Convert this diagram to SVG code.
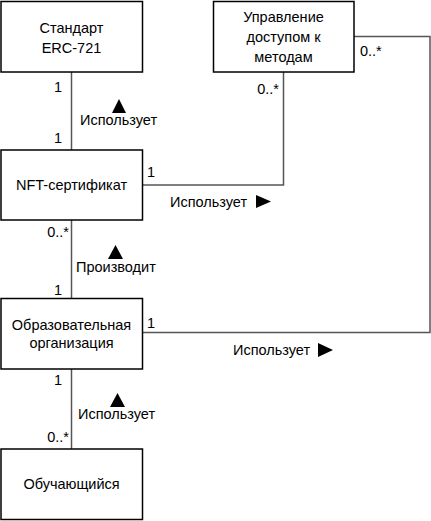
<svg xmlns="http://www.w3.org/2000/svg" width="431" height="521" viewBox="0 0 431 521">
<style>
  .box { fill: #fff; stroke: #000; stroke-width: 1.5; }
  .conn { fill: none; stroke: #555; stroke-width: 1.5; }
  text { font-family: "Liberation Sans", Arial, sans-serif; font-size: 14.5px; fill: #000; }
  .c { text-anchor: middle; }
  .r { text-anchor: end; }
  .tri { fill: #000; }
</style>
<rect width="431" height="521" fill="#fff"/>
<g id="connectors">
  <line class="conn" x1="71.5" y1="72" x2="71.5" y2="150"/>
  <line class="conn" x1="71.5" y1="220" x2="71.5" y2="298"/>
  <line class="conn" x1="71.5" y1="369" x2="71.5" y2="449"/>
  <polyline class="conn" points="142.5,185 283.5,185 283.5,72"/>
  <polyline class="conn" points="142.5,332.5 430,332.5 430,36.5 354,36.5"/>
  <text x="62" y="92" class="r">1</text>
  <text x="62" y="143" class="r">1</text>
  <polygon class="tri" points="112,113 126,113 119,99"/>
  <text x="80" y="125">Использует</text>
  <text x="279" y="94" class="r">0..*</text>
  <text x="360" y="56">0..*</text>
  <text x="147" y="177">1</text>
  <text x="170" y="207">Использует</text>
  <polygon class="tri" points="256,195 256,208 271,201.5"/>
  <text x="69" y="237" class="r">0..*</text>
  <polygon class="tri" points="108,259 123,259 115.5,245"/>
  <text x="76" y="272">Производит</text>
  <text x="62" y="295" class="r">1</text>
  <text x="147" y="328">1</text>
  <text x="233" y="355">Использует</text>
  <polygon class="tri" points="318,343 318,357 333,350"/>
  <text x="62" y="385" class="r">1</text>
  <polygon class="tri" points="110,407 125,407 117.5,393"/>
  <text x="78" y="419">Использует</text>
  <text x="69" y="442" class="r">0..*</text>
</g>
<g id="standard">
  <rect class="box" x="1" y="1.5" width="141.5" height="70.5"/>
  <text x="71.5" y="33" class="c">Стандарт</text>
  <text x="71.5" y="53" class="c">ERC-721</text>
</g>
<g id="access">
  <rect class="box" x="213.5" y="1.5" width="140.5" height="70.5"/>
  <text x="283.5" y="22" class="c">Управление</text>
  <text x="283.5" y="42" class="c">доступом к</text>
  <text x="283.5" y="62" class="c">методам</text>
</g>
<g id="nft">
  <rect class="box" x="1" y="150" width="141.5" height="70"/>
  <text x="71.5" y="190" class="c">NFT-сертификат</text>
</g>
<g id="org">
  <rect class="box" x="1" y="298.5" width="141.5" height="70.5"/>
  <text x="71.5" y="330" class="c">Образовательная</text>
  <text x="71.5" y="348" class="c">организация</text>
</g>
<g id="student">
  <rect class="box" x="1" y="449" width="141.5" height="70.5"/>
  <text x="71.5" y="489" class="c">Обучающийся</text>
</g>
</svg>
